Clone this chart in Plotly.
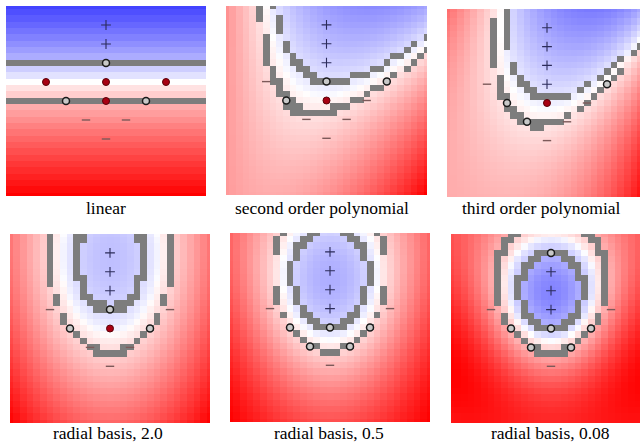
import numpy as np
import plotly.graph_objects as go

# Training set on an integer lattice: a column of positives above a "V" of negatives
pos_x = [0, 0, 0, 0, 0]
pos_y = [4, 3, 2, 1, 0]
neg_x = [-3, 3, -2, 2, -1, 1, 0]
neg_y = [1, 1, 0, 0, -1, -1, -2]

panel_titles = ["linear", "second order polynomial", "third order polynomial",
                "radial basis, 2.0", "radial basis, 0.5", "radial basis, 0.08"]
kernel_kinds = ["linear", "poly", "poly", "rbf", "rbf", "rbf"]
poly_degree = [1, 2, 3, 0, 0, 0]
rbf_sigma = [0, 0, 0, 10.0, 5.7, 3.4]           # Gaussian widths in lattice units
box_C = [1000.0, 12.0, 2.0, 1000.0, 1000.0, 1000.0]
band_tol = [0.2, 0.3, 0.3, 0.2, 0.28, 0.28]     # |f -/+ 1| below this paints a margin cell
feature_scale = 0.3                             # lattice unit -> feature coordinate

# Panel rectangles in pixels: (left, right, top, bottom)
panel_px = [(6, 206, 6, 196), (226, 427, 6, 195), (447, 647, 9, 197),
            (10, 210, 234, 423), (230, 430, 233, 422), (451, 651, 234, 423)]
title_px = [(106, 208), (322, 208), (541, 208), (108, 433), (329, 433), (550, 433)]

W, H = 640, 444
EXTENT = 5.0
SHADE_GAMMA = 0.75
cells = np.arange(-15, 16) / 3.0               # cell centres, three per lattice unit


def features(px, py):
    """Feature coordinates measured from the bottom-left corner of the field."""
    return np.column_stack([(np.asarray(px, float) + EXTENT) * feature_scale,
                            (np.asarray(py, float) + EXTENT) * feature_scale])


def kernel(k, A, B, Al, Bl):
    kind = kernel_kinds[k]
    if kind == "linear":
        return A @ B.T
    if kind == "poly":
        return (A @ B.T + 1.0) ** poly_degree[k]
    d2 = ((Al[:, None, :] - Bl[None, :, :]) ** 2).sum(-1)
    return np.exp(-d2 / (2.0 * rbf_sigma[k] ** 2))


def train_svm(K, y, C, eps=1e-6, max_iter=300000):
    """C-SVC dual solved by SMO with maximal-violating-pair selection."""
    n = len(y)
    Q = (y[:, None] * y[None, :]) * K
    a = np.zeros(n)
    G = -np.ones(n)
    idx = np.arange(n)
    for _ in range(max_iter):
        yG = -y * G
        up = ((y > 0) & (a < C)) | ((y < 0) & (a > 0))
        low = ((y < 0) & (a < C)) | ((y > 0) & (a > 0))
        i = idx[up][np.argmax(yG[up])]
        j = idx[low][np.argmin(yG[low])]
        if yG[i] - yG[j] < eps:
            break
        ai, aj = a[i], a[j]
        quad = max(K[i, i] + K[j, j] - 2 * K[i, j], 1e-12)
        if y[i] != y[j]:
            delta = (-G[i] - G[j]) / quad
            diff = a[i] - a[j]
            a[i] += delta
            a[j] += delta
            if diff > 0:
                if a[j] < 0:
                    a[j] = 0.0
                    a[i] = diff
            else:
                if a[i] < 0:
                    a[i] = 0.0
                    a[j] = -diff
            if diff > 0:
                if a[i] > C:
                    a[i] = C
                    a[j] = C - diff
            else:
                if a[j] > C:
                    a[j] = C
                    a[i] = C + diff
        else:
            delta = (G[i] - G[j]) / quad
            s = a[i] + a[j]
            a[i] -= delta
            a[j] += delta
            if s > C:
                if a[i] > C:
                    a[i] = C
                    a[j] = s - C
            else:
                if a[j] < 0:
                    a[j] = 0.0
                    a[i] = s
            if s > C:
                if a[j] > C:
                    a[j] = C
                    a[i] = s - C
            else:
                if a[i] < 0:
                    a[i] = 0.0
                    a[j] = s
        G += Q[:, i] * (a[i] - ai) + Q[:, j] * (a[j] - aj)

    yG = y * G
    tol = 1e-9 * C
    free = (a > tol) & (a < C - tol)
    if free.any():
        rho = yG[free].mean()
    else:
        ub, lb = np.inf, -np.inf
        for t in range(n):
            at_upper = a[t] >= C - tol
            if (at_upper and y[t] < 0) or (not at_upper and y[t] > 0):
                ub = min(ub, yG[t])
            else:
                lb = max(lb, yG[t])
        rho = 0.5 * (ub + lb)
    return a, rho


pts_x = np.array(pos_x + neg_x, float)
pts_y = np.array(pos_y + neg_y, float)
labels = np.array([1.0] * len(pos_x) + [-1.0] * len(neg_x))
P = features(pts_x, pts_y)
P_lat = np.column_stack([pts_x, pts_y])

gx, gy = np.meshgrid(cells, cells)
Pg = features(gx.ravel(), gy.ravel())
Pg_lat = np.column_stack([gx.ravel(), gy.ravel()])
n_cells = len(cells)

red_white_blue = [[0.0, "rgb(255,0,0)"], [0.5, "rgb(255,255,255)"], [1.0, "rgb(0,0,255)"]]
band_gray = [[0.0, "rgb(125,125,125)"], [1.0, "rgb(125,125,125)"]]

fig = go.Figure()
layout = {}
for k in range(6):
    C = box_C[k]
    K = kernel(k, P, P, P_lat, P_lat)
    alpha, rho = train_svm(K, labels, C)
    f = (kernel(k, Pg, P, Pg_lat, P_lat) @ (alpha * labels) - rho).reshape(n_cells, n_cells)
    scale = np.abs(f).max()
    shade = np.sign(f) * (np.abs(f) / scale) ** SHADE_GAMMA
    tol = band_tol[k]
    band = np.where((np.abs(f - 1) < tol) | (np.abs(f + 1) < tol), 1.0, np.nan)

    n = k + 1
    xa, ya = ("x", "y") if n == 1 else (f"x{n}", f"y{n}")
    fig.add_trace(go.Heatmap(x=cells, y=cells, z=shade, zmin=-1, zmax=1,
                             colorscale=red_white_blue, showscale=False,
                             hoverinfo="skip", xaxis=xa, yaxis=ya))
    fig.add_trace(go.Heatmap(x=cells, y=cells, z=band, zmin=0, zmax=1,
                             colorscale=band_gray, showscale=False,
                             hoverinfo="skip", xaxis=xa, yaxis=ya))

    eps_a = 1e-6 * C
    bounded = alpha >= C - eps_a
    free = (alpha > eps_a) & ~bounded
    plain = alpha <= eps_a
    plus = plain & (labels > 0)
    minus = plain & (labels < 0)

    fig.add_trace(go.Scatter(x=pts_x[plus], y=pts_y[plus], mode="markers",
                             marker=dict(symbol="cross-thin", size=7,
                                         line=dict(color="#2b2b5a", width=1.1)),
                             hoverinfo="skip", xaxis=xa, yaxis=ya))
    fig.add_trace(go.Scatter(x=pts_x[minus], y=pts_y[minus], mode="markers",
                             marker=dict(symbol="line-ew", size=6,
                                         line=dict(color="#7d5a5a", width=1.4)),
                             hoverinfo="skip", xaxis=xa, yaxis=ya))
    fig.add_trace(go.Scatter(x=pts_x[free], y=pts_y[free], mode="markers",
                             marker=dict(symbol="circle", size=7, color="#c8c8c8",
                                         line=dict(color="#1a1a1a", width=1.5)),
                             hoverinfo="skip", xaxis=xa, yaxis=ya))
    fig.add_trace(go.Scatter(x=pts_x[bounded], y=pts_y[bounded], mode="markers",
                             marker=dict(symbol="circle", size=7, color="#a80012",
                                         line=dict(color="#5a0008", width=1)),
                             hoverinfo="skip", xaxis=xa, yaxis=ya))

    x0, x1, y0, y1 = panel_px[k]
    right = min(x1, W)
    xkey = "xaxis" if n == 1 else f"xaxis{n}"
    ykey = "yaxis" if n == 1 else f"yaxis{n}"
    layout[xkey] = dict(domain=[x0 / W, right / W],
                        range=[-EXTENT, -EXTENT + 2 * EXTENT * (right - x0) / (x1 - x0)],
                        visible=False, anchor=ya, fixedrange=True)
    layout[ykey] = dict(domain=[1 - y1 / H, 1 - y0 / H], range=[-EXTENT, EXTENT],
                        visible=False, anchor=xa, fixedrange=True)

annotations = [dict(text=t, x=cx / W, y=1 - cy / H, xref="paper", yref="paper",
                    xanchor="center", yanchor="middle", showarrow=False,
                    font=dict(family="Liberation Serif", size=17.5, color="black"))
               for t, (cx, cy) in zip(panel_titles, title_px)]

fig.update_layout(width=W, height=H, margin=dict(l=0, r=0, t=0, b=0),
                  paper_bgcolor="white", plot_bgcolor="white",
                  showlegend=False, annotations=annotations, **layout)
fig.write_html("out.html")
